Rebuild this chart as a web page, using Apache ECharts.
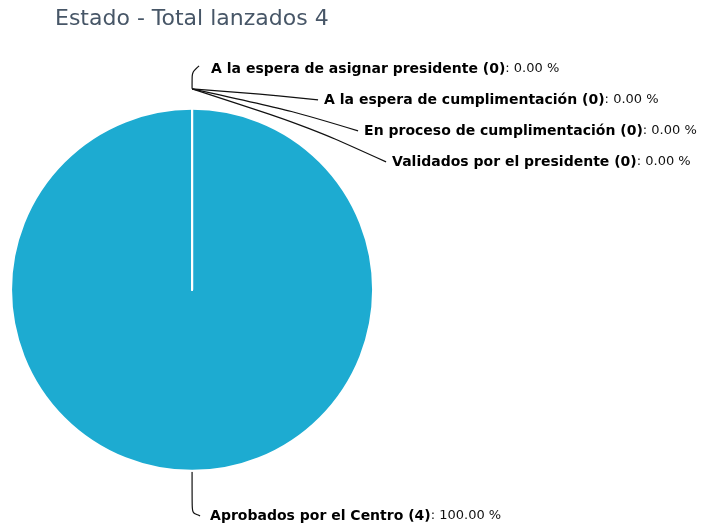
<!DOCTYPE html>
<html>
<head>
<meta charset="utf-8">
<script src="https://cdn.jsdelivr.net/npm/echarts@6/dist/echarts.min.js"></script>
<style>
html,body{margin:0;padding:0;background:#fff;}
#chart{width:701px;height:528px;}
</style>
</head>
<body>
<div id="chart"></div>
<script>
// ---- Data ----
const titleText = 'Estado - Total lanzados 4';
const categories = [
  'Aprobados por el Centro',
  'A la espera de asignar presidente',
  'A la espera de cumplimentación',
  'En proceso de cumplimentación',
  'Validados por el presidente'
];
const values = [4, 0, 0, 0, 0];

// ---- Label placement (offsets from each slice's label anchor on the pie edge) ----
const labelDX = [18, 19, 132, 172, 200];
const labelDY = [45, -40, -9, 22, 53];

const total = values.reduce((a, b) => a + b, 0);
const pieData = categories.map((c, i) => ({ name: c, value: values[i] }));

const chart = echarts.init(document.getElementById('chart'), null, { renderer: 'canvas' });
const FONT = 'DejaVu Sans';

chart.setOption({
  animation: false,
  backgroundColor: '#ffffff',
  title: {
    text: titleText,
    left: 50,
    top: 3,
    textStyle: { fontFamily: FONT, fontSize: 22, fontWeight: 'normal', color: '#475667' }
  },
  series: [{
    type: 'pie',
    center: ['27.4%', '54.9%'],
    radius: 181,
    startAngle: 90,
    clockwise: true,
    avoidLabelOverlap: false,
    silent: true,
    color: ['#1DABD1'],
    itemStyle: { color: '#1DABD1', borderColor: '#ffffff', borderWidth: 2 },
    data: pieData,
    label: {
      show: true,
      fontFamily: FONT,
      fontSize: 13,
      color: '#111',
      formatter: function (p) {
        const pct = total ? (p.value / total * 100) : 0;
        return '{b|' + p.name + ' (' + p.value + ')}: ' + pct.toFixed(2) + ' %';
      },
      rich: {
        b: { fontFamily: FONT, fontSize: 14, fontWeight: 'bold', color: '#000' }
      }
    },
    labelLine: {
      show: true,
      smooth: 0.3,
      lineStyle: { color: '#111', width: 1.2 }
    },
    labelLayout: function (params) {
      const i = params.dataIndex;
      const pts = params.labelLinePoints;
      const ax = pts[0][0], ay = pts[0][1];
      const lx = ax + labelDX[i];
      const ly = ay + labelDY[i];
      let linePts;
      if (i === 0) {
        linePts = [[ax, ay + 1], [ax, ly - 3], [lx - 10, ly]];
      } else if (i === 1) {
        linePts = [[ax, ay - 20], [ax, ly + 3], [lx - 12, ly - 3]];
      } else {
        const sx = ax, sy = ay - 20;
        const ex = lx - 6, ey = ly;
        linePts = [[sx, sy], [sx + (ex - sx) * 0.6, sy + (ey - sy) * 0.52], [ex, ey]];
      }
      return {
        x: lx,
        y: ly,
        align: 'left',
        verticalAlign: 'middle',
        labelLinePoints: linePts
      };
    }
  }]
});
</script>
</body>
</html>
